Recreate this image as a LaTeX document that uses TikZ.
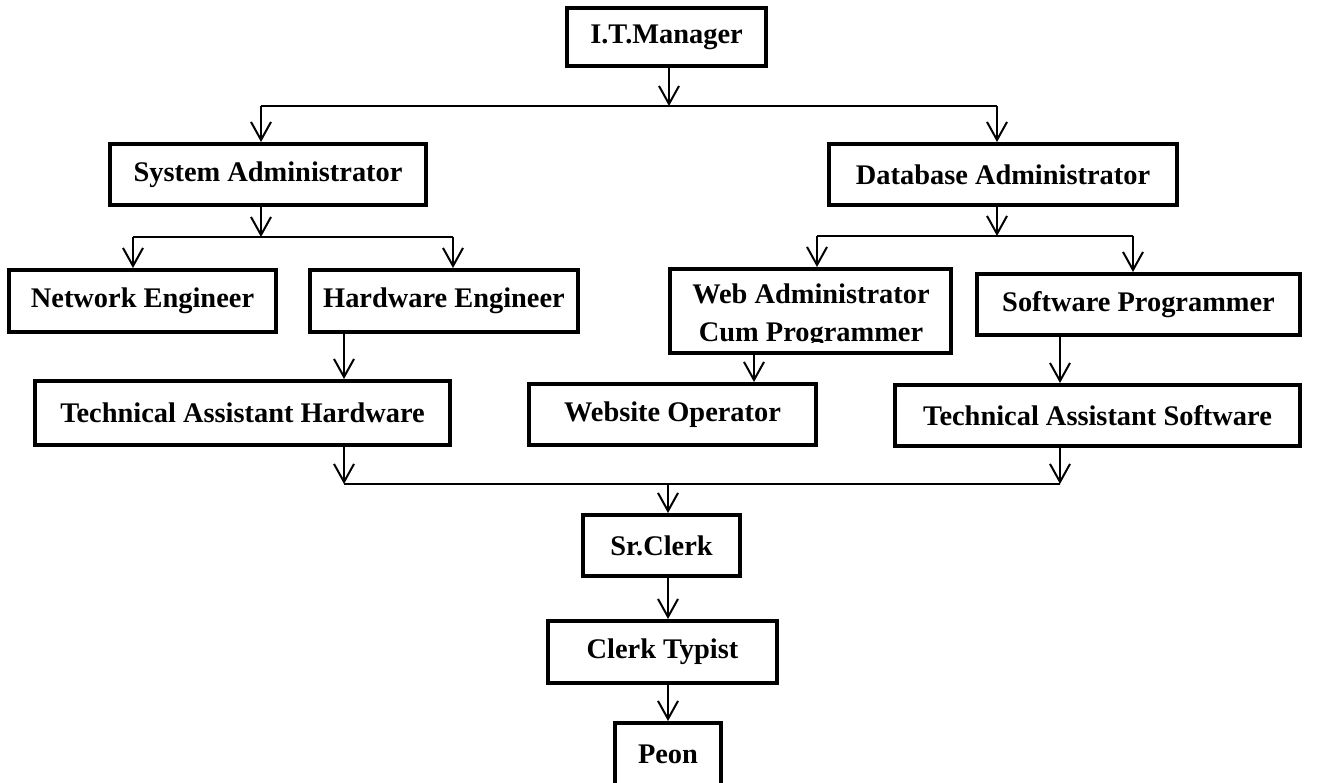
\documentclass[tikz,border=0pt]{standalone}
\usepackage{fontspec}
\setmainfont{Liberation Serif}
\usetikzlibrary{arrows.meta}

\begin{document}
\begin{tikzpicture}[x=0.5pt,y=-0.5pt,>={Straight Barb[length=9pt,width=10pt]},
    box node/.style={draw,rectangle,line width=2pt,inner sep=0pt,align=center,font=\fontsize{14.2}{19}\selectfont\bfseries},
    bus/.style={line width=1pt}]

            \useasboundingbox (0,0) rectangle (1320,782);

            \node[box node, minimum width=99.5pt, minimum height=29pt] (1) at (666.5,37) {I.T.Manager};
            \node[box node, minimum width=158pt, minimum height=30.5pt] (2) at (268,174.5) {System Administrator};
            \node[box node, minimum width=174pt, minimum height=30.5pt] (3) at (1003,174.5) {Database Administrator};
            \node[box node, minimum width=133.5pt, minimum height=31pt] (4) at (142.5,301) {Network Engineer};
            \node[box node, minimum width=134pt, minimum height=31pt] (5) at (444,301) {Hardware Engineer};
            \node[box node, minimum width=140.5pt, minimum height=42pt] (6) at (810.5,311) {};
            \node[box node, minimum width=161.5pt, minimum height=30.5pt] (7) at (1138.5,304.5) {Software Programmer};
            \node[box node, minimum width=207.5pt, minimum height=32pt] (8) at (242.5,413) {Technical Assistant Hardware};
            \node[box node, minimum width=143.5pt, minimum height=30.5pt] (9) at (672.5,414.5) {Website Operator};
            \node[box node, minimum width=202.5pt, minimum height=30.5pt] (10) at (1097.5,415.5) {Technical Assistant Software};
            \node[box node, minimum width=78.5pt, minimum height=30.5pt] (11) at (661.5,545.5) {Sr.Clerk};
            \node[box node, minimum width=114.5pt, minimum height=31pt] (12) at (662.5,652) {Clerk Typist};
            \node[box node, minimum width=53pt, minimum height=31pt] (13) at (668,754) {Peon};

            % second line of the web admin box runs out of its frame
            \begin{scope}
                \clip (668,267) rectangle (953,342);
                \node[box node, draw=none] (6t) at (811,316) {Web Administrator\\Cum Programmer};
            \end{scope}

            \coordinate (a1) at (669,106);
            \coordinate (a2) at (261,106);
            \coordinate (a3) at (997,106);
            \coordinate (b1) at (261,237);
            \coordinate (b2) at (133,237);
            \coordinate (b3) at (453,237);
            \coordinate (c1) at (997,236);
            \coordinate (c2) at (817,236);
            \coordinate (c3) at (1133,236);
            \coordinate (d1) at (754,370);
            \coordinate (e1) at (344,484);
            \coordinate (e2) at (1060,484);
            \coordinate (e3) at (668,484);

            \draw[bus,->] (1.south -| a1) to (a1);
            \draw[bus] (a2) to (a3);
            \draw[bus,->] (a2) to (a2 |- 2.north);
            \draw[bus,->] (a3) to (a3 |- 3.north);

            \draw[bus,->] (2.south -| b1) to (b1);
            \draw[bus] (b2) to (b3);
            \draw[bus,->] (b2) to (b2 |- 4.north);
            \draw[bus,->] (b3) to (b3 |- 5.north);

            \draw[bus,->] (3.south -| c1) to (c1);
            \draw[bus] (c2) to (c3);
            \draw[bus,->] (c2) to (c2 |- 6.north);
            \draw[bus,->] (c3) to (c3 |- 7.north);

            \draw[bus,->] (5.south -| e1) to (8.north -| e1);
            \draw[bus,->] (6.south -| d1) to (9.north -| d1);
            \draw[bus,->] (7.south -| e2) to (10.north -| e2);

            \draw[bus,->] (8.south -| e1) to (e1);
            \draw[bus,->] (10.south -| e2) to (e2);
            \draw[bus] (e1) to (e2);
            \draw[bus,->] (e3) to (e3 |- 11.north);
            \draw[bus,->] (11.south -| e3) to (12.north -| e3);
            \draw[bus,->] (12.south -| e3) to (13.north -| e3);

            ;
        \end{tikzpicture}
\end{document}
